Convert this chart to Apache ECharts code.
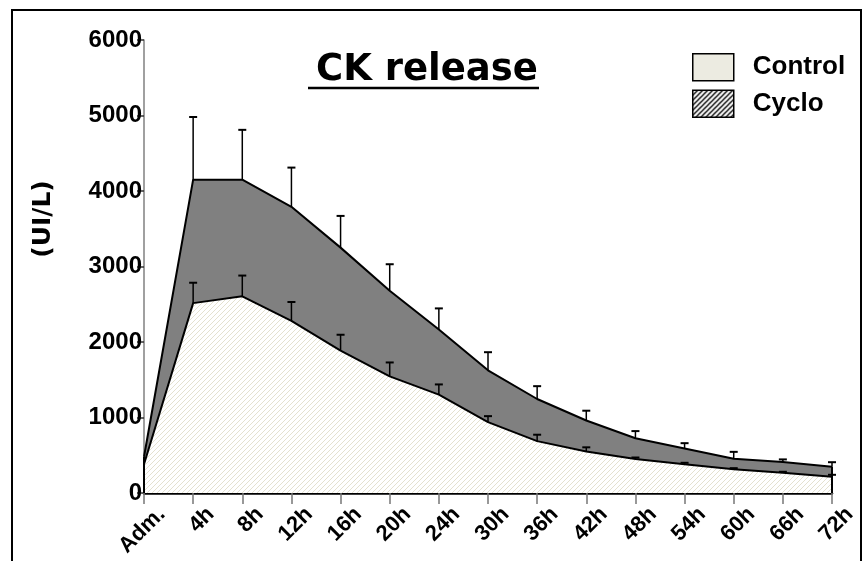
<!DOCTYPE html>
<html>
<head>
<meta charset="utf-8">
<script src="https://cdn.jsdelivr.net/npm/echarts@6/dist/echarts.min.js"></script>
<style>
  html, body { margin: 0; padding: 0; background: #fff; }
  #chart { width: 864px; height: 561px; }
</style>
</head>
<body>
<div id="chart"></div>
<script>
// sampling times
const categories = ['Adm.', '4h', '8h', '12h', '16h', '20h', '24h', '30h', '36h', '42h', '48h', '54h', '60h', '66h', '72h']
// mean CK (UI/L)
const control = [480, 4150, 4150, 3790, 3250, 2680, 2165, 1625, 1245, 960, 725, 590, 455, 410, 348]
const cyclo = [380, 2515, 2605, 2280, 1886, 1544, 1303, 938, 687, 550, 450, 380, 314, 269, 216]
// upper error bar (SD) added on top of the mean
const controlErr = [0, 830, 660, 520, 420, 350, 280, 240, 170, 130, 95, 70, 90, 35, 60]
const cycloErr = [0, 270, 275, 250, 210, 185, 135, 80, 85, 55, 20, 20, 15, 12, 25]
const yTicks = [0, 1000, 2000, 3000, 4000, 5000, 6000]

// small tiled canvas with "///" hatching
const makeHatch = (lineColor, size, width) => {
  const c = document.createElement('canvas')
  c.width = size
  c.height = size
  const ctx = c.getContext('2d')
  ctx.fillStyle = '#fff'
  ctx.fillRect(0, 0, size, size)
  ctx.strokeStyle = lineColor
  ctx.lineWidth = width
  ctx.beginPath()
  ctx.moveTo(-1, size + 1); ctx.lineTo(size + 1, -1)
  ctx.moveTo(-1, 1); ctx.lineTo(1, -1)
  ctx.moveTo(size - 1, size + 1); ctx.lineTo(size + 1, size - 1)
  ctx.stroke()
  return c
}

const chart = echarts.init(document.getElementById('chart'))

const errorBars = (means, errs) => ({
  type: 'custom',
  z: 5,
  silent: true,
  encode: { x: 0, y: 1 },
  data: means.map((m, i) => [i, m, errs[i]]),
  renderItem: (params, api) => {
    const e = api.value(2)
    if (!e) return
    const p0 = api.coord([api.value(0), api.value(1)])
    const p1 = api.coord([api.value(0), api.value(1) + e])
    return {
      type: 'group',
      children: [
        { type: 'line', shape: { x1: p0[0], y1: p0[1], x2: p1[0], y2: p1[1] }, style: { stroke: '#000', lineWidth: 1.5 } },
        { type: 'line', shape: { x1: p1[0] - 4, y1: p1[1], x2: p1[0] + 4, y2: p1[1] }, style: { stroke: '#000', lineWidth: 2 } }
      ]
    }
  }
})

const last = categories.length - 1

const option = {
  animation: false,
  backgroundColor: '#fff',
  title: {
    text: 'CK release',
    left: 427,
    top: 52,
    padding: 0,
    textAlign: 'center',
    textStyle: { fontFamily: 'DejaVu Sans', fontWeight: 'bold', fontSize: 37, color: '#000' }
  },
  legend: {
    orient: 'vertical',
    left: 692,
    top: 53,
    padding: 0,
    itemWidth: 41,
    itemHeight: 27,
    itemGap: 8,
    icon: 'rect',
    selectedMode: false,
    textStyle: { fontFamily: 'Liberation Sans', fontWeight: 'bold', fontSize: 26, color: '#000', padding: [0, 0, 0, 14] },
    data: [
      { name: 'Control', itemStyle: { color: '#ecebe1', borderColor: '#000', borderWidth: 1.5 } },
      { name: 'Cyclo', itemStyle: { color: { image: makeHatch('#000', 5, 1.4), repeat: 'repeat' }, borderColor: '#000', borderWidth: 1.5 } }
    ]
  },
  grid: { left: 144, right: 32, top: 40, bottom: 68 },
  xAxis: {
    type: 'category',
    data: categories,
    boundaryGap: false,
    axisLine: { lineStyle: { color: '#000', width: 2.5 } },
    axisTick: { length: 11, alignWithLabel: true, interval: 0, lineStyle: { color: '#777', width: 1.5 } },
    axisLabel: {
      interval: 0,
      rotate: 45,
      margin: 20,
      verticalAlign: 'top',
      padding: [0, -14, 0, 0],
      fontFamily: 'Liberation Sans',
      fontWeight: 'bold',
      fontSize: 22,
      color: '#000'
    },
    splitLine: { show: false }
  },
  yAxis: {
    type: 'value',
    min: yTicks[0],
    max: yTicks[yTicks.length - 1],
    interval: 1000,
    axisLine: { show: true, lineStyle: { color: '#808080', width: 1.5 } },
    axisTick: { show: true, length: 7, lineStyle: { color: '#333', width: 1.5 } },
    axisLabel: {
      margin: 2,
      padding: [0, 0, 7, 0],
      formatter: v => String(v),
      fontFamily: 'Liberation Sans',
      fontWeight: 'bold',
      fontSize: 24,
      color: '#000'
    },
    splitLine: { show: false }
  },
  graphic: [
    // outer frame (bottom runs off the page)
    { type: 'rect', shape: { x: 12, y: 10, width: 849, height: 570 }, style: { fill: 'none', stroke: '#000', lineWidth: 2 }, z: 0 },
    // title underline
    { type: 'line', shape: { x1: 308, y1: 88, x2: 539, y2: 88 }, style: { stroke: '#000', lineWidth: 2.5 } },
    // y axis name
    {
      type: 'text', x: 43, y: 219, rotation: Math.PI / 2,
      style: { text: '(UI/L)', fontFamily: 'DejaVu Sans', fontWeight: 'bold', fontSize: 25, fill: '#000', align: 'center', verticalAlign: 'middle' }
    }
  ],
  series: [
    {
      name: 'Control',
      type: 'line',
      data: control,
      symbol: 'none',
      itemStyle: { color: '#808080' },
      lineStyle: { color: '#000', width: 2 },
      areaStyle: { color: '#808080', opacity: 1 },
      markLine: {
        silent: true,
        symbol: ['none', 'none'],
        label: { show: false },
        lineStyle: { color: '#000', width: 2, type: 'solid' },
        data: [
          [{ coord: [categories[0], 0] }, { coord: [categories[0], control[0]] }],
          [{ coord: [categories[last], 0] }, { coord: [categories[last], control[last]] }]
        ]
      }
    },
    {
      name: 'Cyclo',
      type: 'line',
      data: cyclo,
      symbol: 'none',
      itemStyle: { color: '#ecebe1' },
      lineStyle: { color: '#000', width: 2 },
      areaStyle: { color: { image: makeHatch('#e4e1cf', 5, 1), repeat: 'repeat' }, opacity: 1 }
    },
    errorBars(control, controlErr),
    errorBars(cyclo, cycloErr)
  ]
}

chart.setOption(option)
</script>
</body>
</html>
